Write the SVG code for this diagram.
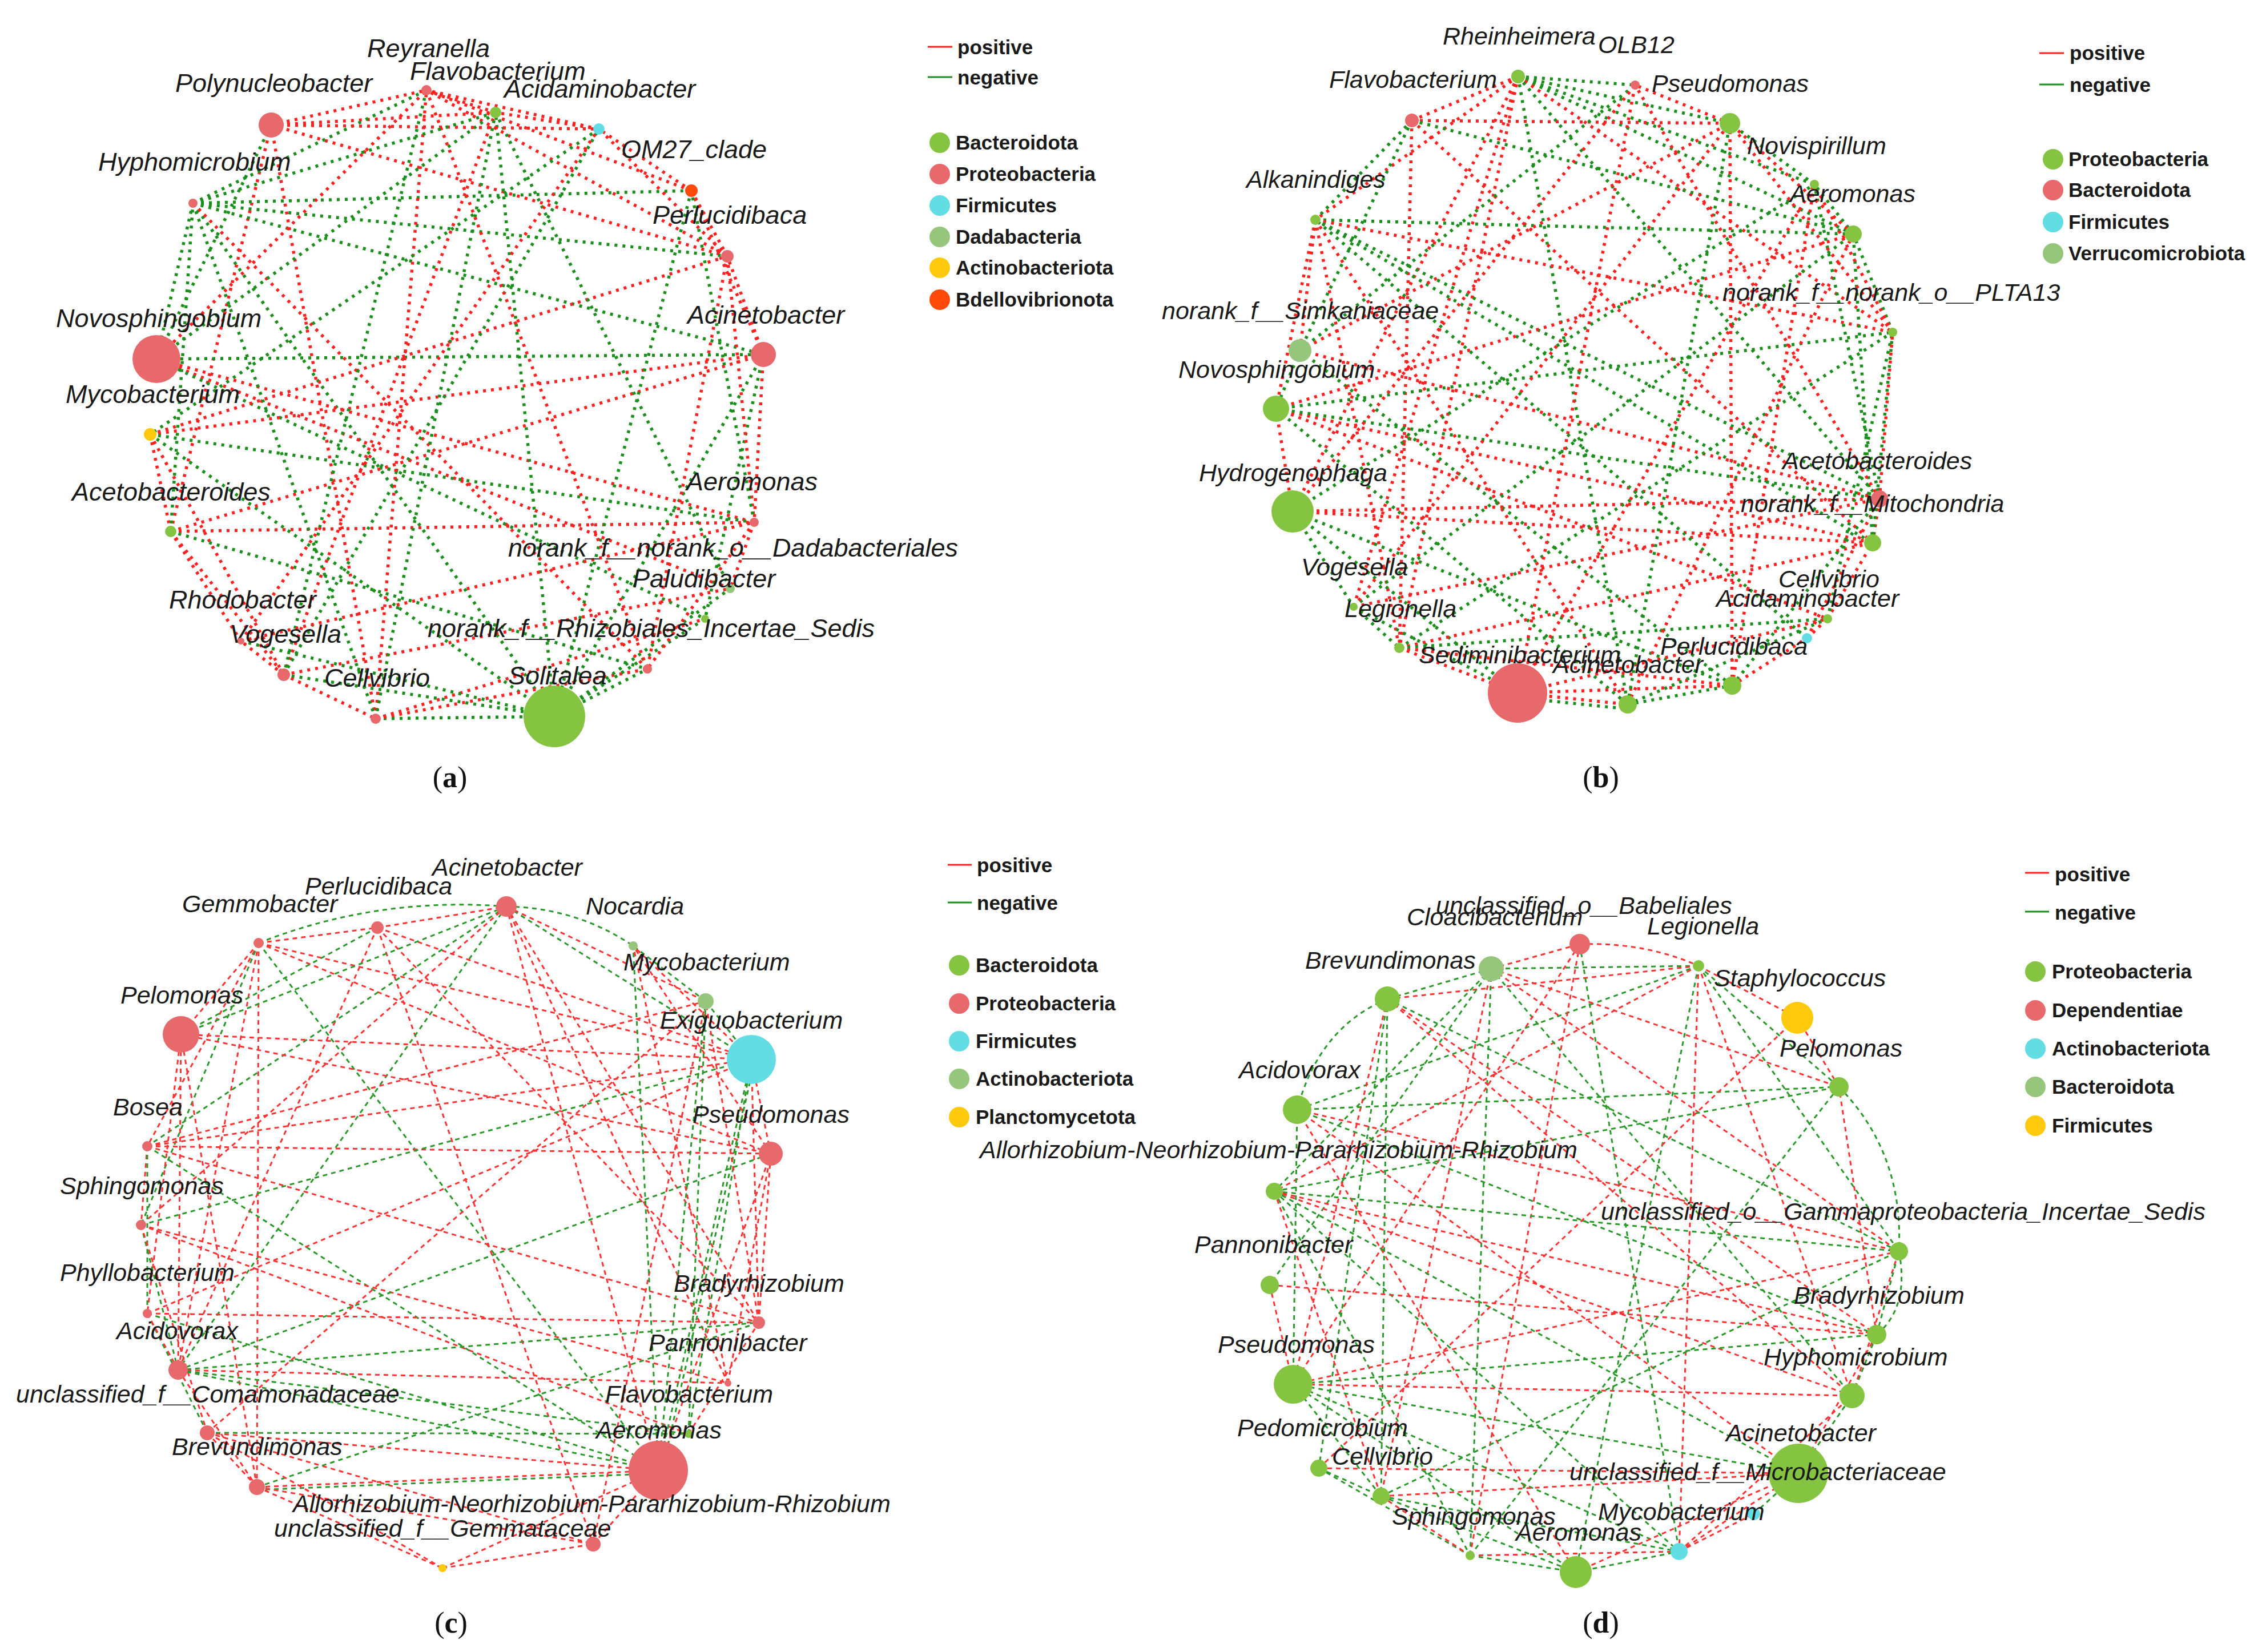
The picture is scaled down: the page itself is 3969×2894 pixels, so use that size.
<svg xmlns="http://www.w3.org/2000/svg" width="3969" height="2894" viewBox="0 0 3969 2894">
<style>
.dp{stroke:#ff2020;stroke-width:5.5;stroke-dasharray:5 9;fill:none}
.dn{stroke:#1b8f1b;stroke-width:5.5;stroke-dasharray:5 9;fill:none}
.sp{stroke:#ff3333;stroke-width:3;stroke-dasharray:8 7;fill:none}
.sn{stroke:#2a992a;stroke-width:3;stroke-dasharray:8 7;fill:none}
.g{fill:#85c441}.r{fill:#e8696b}.c{fill:#62dde3}.l{fill:#96c67b}.y{fill:#ffc90e}.o{fill:#ff4a0a}
.lb{font-family:"Liberation Sans",Arial,sans-serif;font-style:italic;font-size:45px;fill:#1a1a1a}
.lb2{font-family:"Liberation Sans",Arial,sans-serif;font-style:italic;font-size:43px;fill:#1a1a1a}
.lg{font-family:"Liberation Sans",Arial,sans-serif;font-weight:bold;font-size:35px;fill:#1a1a1a}
.cap{font-family:"Liberation Serif","Times New Roman",serif;font-size:52px;fill:#111}
.lp{stroke:#ff2020;stroke-width:3}.ln{stroke:#1b8f1b;stroke-width:3}
</style>
<rect width="3969" height="2894" fill="#ffffff"/>

<!-- ================= PANEL A ================= -->
<g id="panel-a">
<g id="a-connectors">
<line class="dp" x1="475" y1="219" x2="868" y2="197"/>
<line class="dp" x1="475" y1="219" x2="1274" y2="449"/>
<line class="dp" x1="475" y1="219" x2="299" y2="931"/>
<line class="dp" x1="475" y1="219" x2="658" y2="1259"/>
<line class="dn" x1="475" y1="219" x2="274" y2="629"/>
<line class="dp" x1="475" y1="219" x2="747" y2="158"/>
<line class="dn" x1="338" y1="356" x2="747" y2="158"/>
<line class="dn" x1="338" y1="356" x2="1211" y2="334"/>
<line class="dn" x1="338" y1="356" x2="274" y2="629"/>
<line class="dn" x1="338" y1="356" x2="1274" y2="449"/>
<line class="dn" x1="338" y1="356" x2="1337" y2="621"/>
<line class="dn" x1="338" y1="356" x2="971" y2="1255"/>
<line class="dp" x1="338" y1="356" x2="1134" y2="1172"/>
<line class="dn" x1="274" y1="629" x2="1337" y2="621"/>
<line class="dp" x1="274" y1="629" x2="747" y2="158"/>
<line class="dp" x1="274" y1="629" x2="1279" y2="1031"/>
<line class="dn" x1="274" y1="629" x2="1235" y2="1084"/>
<line class="dp" x1="274" y1="629" x2="1321" y2="915"/>
<line class="dp" x1="263" y1="761" x2="1337" y2="621"/>
<line class="dp" x1="263" y1="761" x2="1274" y2="449"/>
<line class="dn" x1="263" y1="761" x2="1321" y2="915"/>
<line class="dp" x1="263" y1="761" x2="299" y2="931"/>
<line class="dp" x1="263" y1="761" x2="497" y2="1182"/>
<line class="dn" x1="263" y1="761" x2="971" y2="1255"/>
<line class="dp" x1="299" y1="931" x2="1337" y2="621"/>
<line class="dp" x1="299" y1="931" x2="1321" y2="915"/>
<line class="dp" x1="299" y1="931" x2="497" y2="1182"/>
<line class="dp" x1="299" y1="931" x2="422" y2="1123"/>
<line class="dn" x1="299" y1="931" x2="338" y2="356"/>
<line class="dn" x1="299" y1="931" x2="1134" y2="1172"/>
<line class="dp" x1="497" y1="1182" x2="422" y2="1123"/>
<line class="dp" x1="497" y1="1182" x2="658" y2="1259"/>
<line class="dn" x1="497" y1="1182" x2="971" y2="1255"/>
<line class="dp" x1="497" y1="1182" x2="1279" y2="1031"/>
<line class="dp" x1="497" y1="1182" x2="868" y2="197"/>
<line class="dn" x1="497" y1="1182" x2="1049" y2="226"/>
<line class="dn" x1="658" y1="1259" x2="971" y2="1255"/>
<line class="dp" x1="658" y1="1259" x2="1134" y2="1172"/>
<line class="dp" x1="658" y1="1259" x2="747" y2="158"/>
<line class="dn" x1="658" y1="1259" x2="338" y2="356"/>
<line class="dp" x1="658" y1="1259" x2="1235" y2="1084"/>
<line class="dn" x1="971" y1="1255" x2="1134" y2="1172"/>
<line class="dn" x1="971" y1="1255" x2="1235" y2="1084"/>
<line class="dn" x1="971" y1="1255" x2="1279" y2="1031"/>
<line class="dn" x1="971" y1="1255" x2="1337" y2="621"/>
<line class="dn" x1="971" y1="1255" x2="868" y2="197"/>
<line class="dn" x1="971" y1="1255" x2="422" y2="1123"/>
<line class="dp" x1="1337" y1="621" x2="1274" y2="449"/>
<line class="dp" x1="1337" y1="621" x2="1321" y2="915"/>
<line class="dp" x1="1337" y1="621" x2="1211" y2="334"/>
<line class="dn" x1="1337" y1="621" x2="1235" y2="1084"/>
<line class="dp" x1="1321" y1="915" x2="1274" y2="449"/>
<line class="dn" x1="1321" y1="915" x2="1211" y2="334"/>
<line class="dp" x1="1321" y1="915" x2="1279" y2="1031"/>
<line class="dp" x1="1321" y1="915" x2="1134" y2="1172"/>
<line class="dp" x1="1274" y1="449" x2="1211" y2="334"/>
<line class="dp" x1="1274" y1="449" x2="747" y2="158"/>
<line class="dp" x1="1274" y1="449" x2="1049" y2="226"/>
<line class="dp" x1="1211" y1="334" x2="1049" y2="226"/>
<line class="dp" x1="1211" y1="334" x2="747" y2="158"/>
<line class="dp" x1="1049" y1="226" x2="868" y2="197"/>
<line class="dp" x1="1049" y1="226" x2="747" y2="158"/>
<line class="dp" x1="868" y1="197" x2="747" y2="158"/>
<line class="dn" x1="868" y1="197" x2="658" y2="1259"/>
<line class="dn" x1="868" y1="197" x2="1279" y2="1031"/>
<line class="dn" x1="1211" y1="334" x2="971" y2="1255"/>
<line class="dp" x1="1274" y1="449" x2="1134" y2="1172"/>
<line class="dp" x1="747" y1="158" x2="1134" y2="1172"/>
<line class="dn" x1="747" y1="158" x2="497" y2="1182"/>
<line class="dn" x1="1049" y1="226" x2="263" y2="761"/>
<line class="dn" x1="868" y1="197" x2="274" y2="629"/>
<line class="dp" x1="422" y1="1123" x2="1321" y2="915"/>
<line class="dp" x1="422" y1="1123" x2="1049" y2="226"/>
<line class="dp" x1="475" y1="219" x2="1049" y2="226"/>
<line class="dn" x1="338" y1="356" x2="868" y2="197"/>
</g>
<g id="a-Reyranella"><circle class="r" cx="747" cy="158" r="9"/><text class="lb" x="643" y="100">Reyranella</text></g>
<g id="a-Flavobacterium"><circle class="g" cx="868" cy="197" r="10"/><text class="lb" x="718" y="140">Flavobacterium</text></g>
<g id="a-Acidaminobacter"><circle class="c" cx="1049" cy="226" r="10"/><text class="lb" x="883" y="171">Acidaminobacter</text></g>
<g id="a-OM27_clade"><circle class="o" cx="1211" cy="334" r="11"/><text class="lb" x="1088" y="277">OM27_clade</text></g>
<g id="a-Perlucidibaca"><circle class="r" cx="1274" cy="449" r="11"/><text class="lb" x="1143" y="392">Perlucidibaca</text></g>
<g id="a-Acinetobacter"><circle class="r" cx="1337" cy="621" r="22"/><text class="lb" x="1204" y="567">Acinetobacter</text></g>
<g id="a-Aeromonas"><circle class="r" cx="1321" cy="915" r="8"/><text class="lb" x="1202" y="859">Aeromonas</text></g>
<g id="a-Dadabacteriales"><circle class="l" cx="1279" cy="1031" r="8"/><text class="lb" x="890" y="975">norank_f__norank_o__Dadabacteriales</text></g>
<g id="a-Paludibacter"><circle class="g" cx="1235" cy="1084" r="7"/><text class="lb" x="1108" y="1029">Paludibacter</text></g>
<g id="a-Rhizobiales"><circle class="r" cx="1134" cy="1172" r="8"/><text class="lb" x="749" y="1116">norank_f__Rhizobiales_Incertae_Sedis</text></g>
<g id="a-Solitalea"><circle class="g" cx="971" cy="1255" r="54"/><text class="lb" x="890" y="1199">Solitalea</text></g>
<g id="a-Cellvibrio"><circle class="r" cx="658" cy="1259" r="9"/><text class="lb" x="568" y="1203">Cellvibrio</text></g>
<g id="a-Vogesella"><circle class="r" cx="497" cy="1182" r="11"/><text class="lb" x="402" y="1126">Vogesella</text></g>
<g id="a-Rhodobacter"><circle class="r" cx="422" cy="1123" r="6"/><text class="lb" x="296" y="1066">Rhodobacter</text></g>
<g id="a-Acetobacteroides"><circle class="g" cx="299" cy="931" r="10"/><text class="lb" x="126" y="877">Acetobacteroides</text></g>
<g id="a-Mycobacterium"><circle class="y" cx="263" cy="761" r="11"/><text class="lb" x="115" y="706">Mycobacterium</text></g>
<g id="a-Novosphingobium"><circle class="r" cx="274" cy="629" r="42"/><text class="lb" x="98" y="573">Novosphingobium</text></g>
<g id="a-Hyphomicrobium"><circle class="r" cx="338" cy="356" r="8"/><text class="lb" x="172" y="299">Hyphomicrobium</text></g>
<g id="a-Polynucleobacter"><circle class="r" cx="475" cy="219" r="22"/><text class="lb" x="307" y="161">Polynucleobacter</text></g>
<g id="a-legend">
<line class="lp" x1="1625" y1="82" x2="1668" y2="82"/><text class="lg" x="1677" y="95">positive</text>
<line class="ln" x1="1625" y1="135" x2="1668" y2="135"/><text class="lg" x="1677" y="148">negative</text>
<circle class="g" cx="1646" cy="250" r="18"/><text class="lg" x="1674" y="262">Bacteroidota</text>
<circle class="r" cx="1646" cy="305" r="18"/><text class="lg" x="1674" y="317">Proteobacteria</text>
<circle class="c" cx="1646" cy="360" r="18"/><text class="lg" x="1674" y="372">Firmicutes</text>
<circle class="l" cx="1646" cy="415" r="18"/><text class="lg" x="1674" y="427">Dadabacteria</text>
<circle class="y" cx="1646" cy="469" r="18"/><text class="lg" x="1674" y="481">Actinobacteriota</text>
<circle class="o" cx="1646" cy="525" r="18"/><text class="lg" x="1674" y="537">Bdellovibrionota</text>
</g>
<text class="cap" x="788" y="1379" text-anchor="middle">(<tspan font-weight="bold">a</tspan>)</text>
</g>

<!-- ================= PANEL B ================= -->
<g id="panel-b">
<g id="b-connectors">
<line class="dp" x1="2659" y1="134" x2="2304" y2="385"/>
<line class="dp" x1="2659" y1="134" x2="2264" y2="896"/>
<line class="dn" x1="2659" y1="134" x2="2851" y2="1234"/>
<line class="dn" x1="2659" y1="134" x2="3030" y2="216"/>
<line class="dn" x1="2659" y1="134" x2="3178" y2="323"/>
<line class="dn" x1="2659" y1="134" x2="3246" y2="410"/>
<line class="dp" x1="2659" y1="134" x2="3315" y2="582"/>
<line class="dp" x1="2659" y1="134" x2="2371" y2="1063"/>
<line class="dp" x1="2659" y1="134" x2="2451" y2="1135"/>
<line class="dp" x1="2659" y1="134" x2="2473" y2="211"/>
<line class="dn" x1="2659" y1="134" x2="2864" y2="149"/>
<line class="dn" x1="2659" y1="134" x2="3292" y2="874"/>
<line class="dn" x1="2473" y1="211" x2="2304" y2="385"/>
<line class="dn" x1="2473" y1="211" x2="2277" y2="614"/>
<line class="dp" x1="2473" y1="211" x2="2451" y2="1135"/>
<line class="dp" x1="2473" y1="211" x2="3280" y2="951"/>
<line class="dp" x1="2473" y1="211" x2="3030" y2="216"/>
<line class="dn" x1="2473" y1="211" x2="3246" y2="410"/>
<line class="dp" x1="2304" y1="385" x2="2277" y2="614"/>
<line class="dp" x1="2304" y1="385" x2="2235" y2="716"/>
<line class="dn" x1="2304" y1="385" x2="3246" y2="410"/>
<line class="dp" x1="2304" y1="385" x2="3315" y2="582"/>
<line class="dn" x1="2304" y1="385" x2="3292" y2="874"/>
<line class="dp" x1="2304" y1="385" x2="2451" y2="1135"/>
<line class="dp" x1="2304" y1="385" x2="2851" y2="1234"/>
<line class="dn" x1="2304" y1="385" x2="3280" y2="951"/>
<line class="dp" x1="2277" y1="614" x2="3030" y2="216"/>
<line class="dn" x1="2277" y1="614" x2="2864" y2="149"/>
<line class="dn" x1="2277" y1="614" x2="3034" y2="1201"/>
<line class="dp" x1="2277" y1="614" x2="3292" y2="874"/>
<line class="dn" x1="2277" y1="614" x2="2235" y2="716"/>
<line class="dp" x1="2235" y1="716" x2="3246" y2="410"/>
<line class="dp" x1="2235" y1="716" x2="3280" y2="951"/>
<line class="dp" x1="2235" y1="716" x2="3201" y2="1084"/>
<line class="dn" x1="2235" y1="716" x2="2851" y2="1234"/>
<line class="dn" x1="2235" y1="716" x2="3292" y2="874"/>
<line class="dn" x1="2235" y1="716" x2="3315" y2="582"/>
<line class="dp" x1="2235" y1="716" x2="2264" y2="896"/>
<line class="dp" x1="2264" y1="896" x2="3280" y2="951"/>
<line class="dp" x1="2264" y1="896" x2="3292" y2="874"/>
<line class="dp" x1="2264" y1="896" x2="2864" y2="149"/>
<line class="dn" x1="2264" y1="896" x2="3178" y2="323"/>
<line class="dn" x1="2264" y1="896" x2="2371" y2="1063"/>
<line class="dn" x1="2264" y1="896" x2="2658" y2="1214"/>
<line class="dn" x1="2264" y1="896" x2="3034" y2="1201"/>
<line class="dn" x1="2371" y1="1063" x2="2451" y2="1135"/>
<line class="dn" x1="2371" y1="1063" x2="2658" y2="1214"/>
<line class="dn" x1="2371" y1="1063" x2="3246" y2="410"/>
<line class="dp" x1="2371" y1="1063" x2="3030" y2="216"/>
<line class="dp" x1="2371" y1="1063" x2="3292" y2="874"/>
<line class="dp" x1="2451" y1="1135" x2="2658" y2="1214"/>
<line class="dp" x1="2451" y1="1135" x2="3034" y2="1201"/>
<line class="dp" x1="2451" y1="1135" x2="3280" y2="951"/>
<line class="dn" x1="2451" y1="1135" x2="3315" y2="582"/>
<line class="dn" x1="2451" y1="1135" x2="3201" y2="1084"/>
<line class="dp" x1="2658" y1="1214" x2="2851" y2="1234"/>
<line class="dn" x1="2658" y1="1222" x2="2851" y2="1242"/>
<line class="dp" x1="2658" y1="1214" x2="3034" y2="1201"/>
<line class="dp" x1="2658" y1="1214" x2="3201" y2="1084"/>
<line class="dp" x1="2658" y1="1214" x2="2864" y2="149"/>
<line class="dp" x1="2658" y1="1214" x2="3178" y2="323"/>
<line class="dn" x1="2851" y1="1234" x2="3034" y2="1201"/>
<line class="dn" x1="2851" y1="1234" x2="3201" y2="1084"/>
<line class="dn" x1="2851" y1="1234" x2="3030" y2="216"/>
<line class="dp" x1="2851" y1="1234" x2="3246" y2="410"/>
<line class="dp" x1="3034" y1="1201" x2="3165" y2="1118"/>
<line class="dn" x1="3034" y1="1201" x2="3292" y2="874"/>
<line class="dp" x1="3034" y1="1201" x2="3030" y2="216"/>
<line class="dp" x1="3034" y1="1201" x2="3178" y2="323"/>
<line class="dp" x1="3165" y1="1118" x2="3201" y2="1084"/>
<line class="dp" x1="3165" y1="1118" x2="3292" y2="874"/>
<line class="dn" x1="3165" y1="1118" x2="2304" y2="385"/>
<line class="dp" x1="3201" y1="1084" x2="3280" y2="951"/>
<line class="dn" x1="3201" y1="1084" x2="3315" y2="582"/>
<line class="dp" x1="3280" y1="951" x2="3292" y2="874"/>
<line class="dn" x1="3280" y1="951" x2="3315" y2="582"/>
<line class="dn" x1="3280" y1="951" x2="3246" y2="410"/>
<line class="dp" x1="3292" y1="874" x2="3315" y2="582"/>
<line class="dn" x1="3292" y1="874" x2="3178" y2="323"/>
<line class="dp" x1="3292" y1="874" x2="2864" y2="149"/>
<line class="dn" x1="3315" y1="582" x2="3246" y2="410"/>
<line class="dp" x1="3315" y1="582" x2="3178" y2="323"/>
<line class="dp" x1="3315" y1="582" x2="3030" y2="216"/>
<line class="dn" x1="3246" y1="410" x2="3178" y2="323"/>
<line class="dp" x1="3246" y1="410" x2="3030" y2="216"/>
<line class="dn" x1="3178" y1="323" x2="3030" y2="216"/>
<line class="dp" x1="3030" y1="216" x2="2864" y2="149"/>
</g>
<g id="b-Rheinheimera"><circle class="g" cx="2659" cy="134" r="12"/><text class="lb2" x="2527" y="78">Rheinheimera</text></g>
<g id="b-OLB12"><circle class="r" cx="2864" cy="149" r="8"/><text class="lb2" x="2799" y="93">OLB12</text></g>
<g id="b-Flavobacterium"><circle class="r" cx="2473" cy="211" r="12"/><text class="lb2" x="2328" y="154">Flavobacterium</text></g>
<g id="b-Pseudomonas"><circle class="g" cx="3030" cy="216" r="18"/><text class="lb2" x="2893" y="161">Pseudomonas</text></g>
<g id="b-Novispirillum"><circle class="g" cx="3178" cy="323" r="8"/><text class="lb2" x="3060" y="270">Novispirillum</text></g>
<g id="b-Aeromonas"><circle class="g" cx="3246" cy="410" r="15"/><text class="lb2" x="3135" y="354">Aeromonas</text></g>
<g id="b-Alkanindiges"><circle class="g" cx="2304" cy="385" r="9"/><text class="lb2" x="2183" y="329">Alkanindiges</text></g>
<g id="b-PLTA13"><circle class="g" cx="3315" cy="582" r="8"/><text class="lb2" x="3017" y="527">norank_f__norank_o__PLTA13</text></g>
<g id="b-Simkaniaceae"><circle class="l" cx="2277" cy="614" r="20"/><text class="lb2" x="2035" y="559">norank_f__Simkaniaceae</text></g>
<g id="b-Novosphingobium"><circle class="g" cx="2235" cy="716" r="23"/><text class="lb2" x="2064" y="662">Novosphingobium</text></g>
<g id="b-Hydrogenophaga"><circle class="g" cx="2264" cy="896" r="37"/><text class="lb2" x="2100" y="843">Hydrogenophaga</text></g>
<g id="b-Acetobacteroides"><circle class="r" cx="3292" cy="874" r="15"/><text class="lb2" x="3122" y="822">Acetobacteroides</text></g>
<g id="b-Mitochondria"><circle class="g" cx="3280" cy="951" r="15"/><text class="lb2" x="3049" y="897">norank_f__Mitochondria</text></g>
<g id="b-Vogesella"><circle class="g" cx="2371" cy="1063" r="7"/><text class="lb2" x="2279" y="1008">Vogesella</text></g>
<g id="b-Cellvibrio"><circle class="g" cx="3201" cy="1084" r="8"/><text class="lb2" x="3115" y="1029">Cellvibrio</text></g>
<g id="b-Acidaminobacter"><circle class="c" cx="3165" cy="1118" r="9"/><text class="lb2" x="3006" y="1063">Acidaminobacter</text></g>
<g id="b-Legionella"><circle class="g" cx="2451" cy="1135" r="9"/><text class="lb2" x="2355" y="1081">Legionella</text></g>
<g id="b-Perlucidibaca"><circle class="g" cx="3034" cy="1201" r="16"/><text class="lb2" x="2908" y="1147">Perlucidibaca</text></g>
<g id="b-Sediminibacterium"><circle class="r" cx="2658" cy="1214" r="52"/><text class="lb2" x="2485" y="1162">Sediminibacterium</text></g>
<g id="b-Acinetobacter"><circle class="g" cx="2851" cy="1234" r="16"/><text class="lb2" x="2720" y="1179">Acinetobacter</text></g>
<g id="b-legend">
<line class="lp" x1="3572" y1="93" x2="3615" y2="93"/><text class="lg" x="3625" y="105">positive</text>
<line class="ln" x1="3572" y1="148" x2="3615" y2="148"/><text class="lg" x="3625" y="161">negative</text>
<circle class="g" cx="3596" cy="279" r="18"/><text class="lg" x="3623" y="291">Proteobacteria</text>
<circle class="r" cx="3596" cy="333" r="18"/><text class="lg" x="3623" y="345">Bacteroidota</text>
<circle class="c" cx="3596" cy="389" r="18"/><text class="lg" x="3623" y="401">Firmicutes</text>
<circle class="l" cx="3596" cy="444" r="18"/><text class="lg" x="3623" y="456">Verrucomicrobiota</text>
</g>
<text class="cap" x="2804" y="1379" text-anchor="middle">(<tspan font-weight="bold">b</tspan>)</text>
</g>

<!-- ================= PANEL C ================= -->
<g id="panel-c">
<g id="c-connectors">
<path class="sn" d="M453 1652 Q660 1570 887 1588"/>
<line class="sp" x1="453" y1="1652" x2="661" y2="1625"/>
<line class="sp" x1="453" y1="1652" x2="317" y2="1812"/>
<line class="sp" x1="453" y1="1652" x2="258" y2="2008"/>
<line class="sn" x1="453" y1="1652" x2="247" y2="2146"/>
<line class="sp" x1="453" y1="1652" x2="450" y2="2605"/>
<line class="sn" x1="453" y1="1652" x2="1153" y2="2576"/>
<line class="sp" x1="453" y1="1652" x2="1316" y2="1856"/>
<line class="sp" x1="453" y1="1652" x2="1350" y2="2021"/>
<line class="sp" x1="453" y1="1652" x2="312" y2="2400"/>
<line class="sp" x1="661" y1="1625" x2="887" y2="1588"/>
<line class="sp" x1="661" y1="1625" x2="1316" y2="1856"/>
<line class="sp" x1="661" y1="1625" x2="1329" y2="2317"/>
<line class="sp" x1="661" y1="1625" x2="312" y2="2400"/>
<line class="sp" x1="661" y1="1625" x2="1039" y2="2705"/>
<line class="sn" x1="661" y1="1625" x2="317" y2="1812"/>
<path class="sn" d="M887 1588 Q1010 1590 1109 1657"/>
<line class="sp" x1="887" y1="1588" x2="1236" y2="1754"/>
<line class="sn" x1="887" y1="1588" x2="317" y2="1812"/>
<line class="sn" x1="887" y1="1588" x2="258" y2="2008"/>
<line class="sp" x1="887" y1="1588" x2="247" y2="2146"/>
<line class="sp" x1="887" y1="1588" x2="1153" y2="2576"/>
<line class="sp" x1="887" y1="1588" x2="1329" y2="2317"/>
<line class="sn" x1="887" y1="1588" x2="312" y2="2400"/>
<line class="sp" x1="887" y1="1588" x2="1275" y2="2423"/>
<line class="sn" x1="887" y1="1588" x2="1316" y2="1856"/>
<line class="sp" x1="317" y1="1812" x2="1316" y2="1856"/>
<line class="sp" x1="317" y1="1812" x2="1350" y2="2021"/>
<line class="sp" x1="317" y1="1812" x2="312" y2="2400"/>
<line class="sp" x1="317" y1="1812" x2="258" y2="2301"/>
<line class="sp" x1="317" y1="1812" x2="450" y2="2605"/>
<line class="sp" x1="258" y1="2008" x2="1316" y2="1856"/>
<line class="sp" x1="258" y1="2008" x2="1350" y2="2021"/>
<line class="sn" x1="258" y1="2008" x2="1153" y2="2576"/>
<line class="sp" x1="258" y1="2008" x2="247" y2="2146"/>
<line class="sn" x1="258" y1="2008" x2="258" y2="2301"/>
<line class="sp" x1="258" y1="2008" x2="1236" y2="1754"/>
<line class="sp" x1="258" y1="2008" x2="1329" y2="2317"/>
<line class="sn" x1="247" y1="2146" x2="1316" y2="1856"/>
<line class="sp" x1="247" y1="2146" x2="1206" y2="2512"/>
<line class="sn" x1="247" y1="2146" x2="312" y2="2400"/>
<line class="sp" x1="247" y1="2146" x2="1275" y2="2423"/>
<line class="sp" x1="247" y1="2146" x2="363" y2="2510"/>
<line class="sp" x1="258" y1="2301" x2="1316" y2="1856"/>
<line class="sn" x1="258" y1="2301" x2="1153" y2="2576"/>
<line class="sn" x1="258" y1="2301" x2="363" y2="2510"/>
<line class="sp" x1="258" y1="2301" x2="1329" y2="2317"/>
<line class="sp" x1="258" y1="2301" x2="312" y2="2400"/>
<line class="sn" x1="312" y1="2400" x2="1350" y2="2021"/>
<line class="sn" x1="312" y1="2400" x2="1153" y2="2576"/>
<line class="sp" x1="312" y1="2400" x2="1275" y2="2423"/>
<line class="sn" x1="312" y1="2400" x2="1206" y2="2512"/>
<line class="sn" x1="312" y1="2400" x2="1329" y2="2317"/>
<line class="sp" x1="312" y1="2400" x2="450" y2="2605"/>
<line class="sp" x1="363" y1="2510" x2="1153" y2="2576"/>
<line class="sn" x1="363" y1="2510" x2="1206" y2="2512"/>
<line class="sp" x1="363" y1="2510" x2="1236" y2="1754"/>
<line class="sp" x1="363" y1="2510" x2="1039" y2="2705"/>
<line class="sp" x1="363" y1="2510" x2="450" y2="2605"/>
<line class="sp" x1="450" y1="2605" x2="1153" y2="2576"/>
<line class="sn" x1="450" y1="2610" x2="1153" y2="2581"/>
<line class="sp" x1="450" y1="2605" x2="1039" y2="2705"/>
<line class="sp" x1="450" y1="2605" x2="775" y2="2747"/>
<line class="sn" x1="450" y1="2605" x2="1329" y2="2317"/>
<line class="sp" x1="775" y1="2747" x2="1039" y2="2705"/>
<line class="sp" x1="775" y1="2747" x2="1153" y2="2576"/>
<line class="sp" x1="775" y1="2747" x2="363" y2="2510"/>
<line class="sp" x1="1039" y1="2705" x2="1153" y2="2576"/>
<line class="sp" x1="1039" y1="2705" x2="1236" y2="1754"/>
<line class="sn" x1="1153" y1="2576" x2="1316" y2="1856"/>
<line class="sn" x1="1160" y1="2576" x2="1322" y2="1858"/>
<line class="sn" x1="1153" y1="2576" x2="1236" y2="1754"/>
<line class="sn" x1="1153" y1="2576" x2="1109" y2="1657"/>
<line class="sp" x1="1153" y1="2576" x2="1350" y2="2021"/>
<line class="sn" x1="1206" y1="2512" x2="1316" y2="1856"/>
<line class="sn" x1="1206" y1="2512" x2="1236" y2="1754"/>
<line class="sp" x1="1206" y1="2512" x2="1329" y2="2317"/>
<line class="sp" x1="1275" y1="2423" x2="1350" y2="2021"/>
<line class="sp" x1="1275" y1="2423" x2="1109" y2="1657"/>
<line class="sp" x1="1329" y1="2317" x2="1350" y2="2021"/>
<line class="sp" x1="1329" y1="2317" x2="1316" y2="1856"/>
<line class="sp" x1="1329" y1="2317" x2="1236" y2="1754"/>
<line class="sp" x1="1350" y1="2021" x2="1316" y2="1856"/>
<line class="sp" x1="1350" y1="2021" x2="1109" y2="1657"/>
<line class="sn" x1="1316" y1="1856" x2="1236" y2="1754"/>
<line class="sp" x1="1316" y1="1856" x2="1109" y2="1657"/>
<line class="sn" x1="1236" y1="1754" x2="1109" y2="1657"/>
</g>
<g id="c-Acinetobacter"><circle class="r" cx="887" cy="1588" r="18"/><text class="lb2" x="757" y="1534">Acinetobacter</text></g>
<g id="c-Perlucidibaca"><circle class="r" cx="661" cy="1625" r="11"/><text class="lb2" x="534" y="1567">Perlucidibaca</text></g>
<g id="c-Gemmobacter"><circle class="r" cx="453" cy="1652" r="9"/><text class="lb2" x="319" y="1598">Gemmobacter</text></g>
<g id="c-Nocardia"><circle class="l" cx="1109" cy="1657" r="8"/><text class="lb2" x="1026" y="1602">Nocardia</text></g>
<g id="c-Mycobacterium"><circle class="l" cx="1236" cy="1754" r="14"/><text class="lb2" x="1092" y="1700">Mycobacterium</text></g>
<g id="c-Pelomonas"><circle class="r" cx="317" cy="1812" r="32"/><text class="lb2" x="211" y="1758">Pelomonas</text></g>
<g id="c-Exiguobacterium"><circle class="c" cx="1316" cy="1856" r="43"/><text class="lb2" x="1156" y="1802">Exiguobacterium</text></g>
<g id="c-Bosea"><circle class="r" cx="258" cy="2008" r="9"/><text class="lb2" x="198" y="1954">Bosea</text></g>
<g id="c-Pseudomonas"><circle class="r" cx="1350" cy="2021" r="21"/><text class="lb2" x="1213" y="1967">Pseudomonas</text></g>
<g id="c-Sphingomonas"><circle class="r" cx="247" cy="2146" r="9"/><text class="lb2" x="105" y="2092">Sphingomonas</text></g>
<g id="c-Phyllobacterium"><circle class="r" cx="258" cy="2301" r="8"/><text class="lb2" x="105" y="2244">Phyllobacterium</text></g>
<g id="c-Bradyrhizobium"><circle class="r" cx="1329" cy="2317" r="11"/><text class="lb2" x="1180" y="2263">Bradyrhizobium</text></g>
<g id="c-Acidovorax"><circle class="r" cx="312" cy="2400" r="17"/><text class="lb2" x="204" y="2346">Acidovorax</text></g>
<g id="c-Pannonibacter"><circle class="r" cx="1275" cy="2423" r="6"/><text class="lb2" x="1136" y="2367">Pannonibacter</text></g>
<g id="c-Comamonadaceae"><circle class="r" cx="363" cy="2510" r="13"/><text class="lb2" x="28" y="2457">unclassified_f__Comamonadaceae</text></g>
<g id="c-Flavobacterium"><circle class="g" cx="1206" cy="2512" r="7"/><text class="lb2" x="1060" y="2457">Flavobacterium</text></g>
<g id="c-Aeromonas"><circle class="r" cx="1153" cy="2576" r="52"/><text class="lb2" x="1044" y="2520">Aeromonas</text></g>
<g id="c-Brevundimonas"><circle class="r" cx="450" cy="2605" r="14"/><text class="lb2" x="301" y="2549">Brevundimonas</text></g>
<g id="c-Allorhizobium"><circle class="r" cx="1039" cy="2705" r="13"/><text class="lb2" x="513" y="2649">Allorhizobium-Neorhizobium-Pararhizobium-Rhizobium</text></g>
<g id="c-Gemmataceae"><circle class="y" cx="775" cy="2747" r="7"/><text class="lb2" x="480" y="2692">unclassified_f__Gemmataceae</text></g>
<g id="c-legend">
<line class="lp" x1="1660" y1="1515" x2="1702" y2="1515"/><text class="lg" x="1711" y="1528">positive</text>
<line class="ln" x1="1660" y1="1581" x2="1702" y2="1581"/><text class="lg" x="1711" y="1594">negative</text>
<circle class="g" cx="1680" cy="1691" r="18"/><text class="lg" x="1709" y="1703">Bacteroidota</text>
<circle class="r" cx="1680" cy="1758" r="18"/><text class="lg" x="1709" y="1770">Proteobacteria</text>
<circle class="c" cx="1680" cy="1824" r="18"/><text class="lg" x="1709" y="1836">Firmicutes</text>
<circle class="l" cx="1680" cy="1890" r="18"/><text class="lg" x="1709" y="1902">Actinobacteriota</text>
<circle class="y" cx="1680" cy="1957" r="18"/><text class="lg" x="1709" y="1969">Planctomycetota</text>
</g>
<text class="cap" x="790" y="2860" text-anchor="middle">(<tspan font-weight="bold">c</tspan>)</text>
</g>

<!-- ================= PANEL D ================= -->
<g id="panel-d">
<g id="d-connectors">
<line class="sn" x1="2975" y1="1692" x2="2612" y2="1697"/>
<line class="sp" x1="2975" y1="1692" x2="2430" y2="1750"/>
<line class="sn" x1="2975" y1="1692" x2="2272" y2="1944"/>
<line class="sp" x1="2975" y1="1692" x2="2232" y2="2087"/>
<line class="sn" x1="2975" y1="1692" x2="3221" y2="1904"/>
<line class="sn" x1="2975" y1="1692" x2="3326" y2="2192"/>
<line class="sp" x1="2975" y1="1692" x2="3244" y2="2445"/>
<line class="sn" x1="2975" y1="1692" x2="2760" y2="2754"/>
<line class="sp" x1="2975" y1="1692" x2="2941" y2="2718"/>
<line class="sp" x1="2975" y1="1692" x2="3148" y2="1783"/>
<line class="sp" x1="2612" y1="1697" x2="2767" y2="1654"/>
<line class="sn" x1="2612" y1="1697" x2="2430" y2="1750"/>
<line class="sn" x1="2612" y1="1697" x2="2232" y2="2087"/>
<line class="sn" x1="2612" y1="1697" x2="2224" y2="2251"/>
<line class="sn" x1="2612" y1="1697" x2="2575" y2="2725"/>
<line class="sp" x1="2612" y1="1697" x2="2419" y2="2621"/>
<line class="sn" x1="2612" y1="1697" x2="3244" y2="2445"/>
<line class="sp" x1="2612" y1="1697" x2="3221" y2="1904"/>
<line class="sp" x1="2612" y1="1697" x2="3326" y2="2192"/>
<path class="sp" d="M2767 1654 Q2880 1650 2975 1692"/>
<line class="sp" x1="2767" y1="1654" x2="2575" y2="2725"/>
<line class="sn" x1="2767" y1="1654" x2="2941" y2="2718"/>
<line class="sp" x1="2767" y1="1654" x2="2265" y2="2425"/>
<path class="sn" d="M2430 1750 Q2310 1800 2272 1944"/>
<line class="sn" x1="2430" y1="1750" x2="2310" y2="2572"/>
<line class="sn" x1="2430" y1="1750" x2="2419" y2="2621"/>
<line class="sp" x1="2430" y1="1750" x2="2265" y2="2425"/>
<line class="sp" x1="2430" y1="1750" x2="3287" y2="2338"/>
<line class="sp" x1="2430" y1="1750" x2="3244" y2="2445"/>
<line class="sn" x1="2430" y1="1750" x2="3326" y2="2192"/>
<line class="sn" x1="2272" y1="1944" x2="2265" y2="2425"/>
<line class="sn" x1="2272" y1="1944" x2="3221" y2="1904"/>
<line class="sp" x1="2272" y1="1944" x2="3150" y2="2581"/>
<line class="sp" x1="2272" y1="1944" x2="3326" y2="2192"/>
<line class="sp" x1="2272" y1="1944" x2="2760" y2="2754"/>
<line class="sn" x1="2272" y1="1944" x2="3287" y2="2338"/>
<line class="sn" x1="2232" y1="2087" x2="3221" y2="1904"/>
<line class="sn" x1="2232" y1="2087" x2="3326" y2="2192"/>
<line class="sp" x1="2232" y1="2087" x2="3244" y2="2445"/>
<line class="sp" x1="2232" y1="2087" x2="3287" y2="2338"/>
<line class="sn" x1="2232" y1="2087" x2="2575" y2="2725"/>
<line class="sn" x1="2232" y1="2087" x2="2941" y2="2718"/>
<line class="sp" x1="2232" y1="2087" x2="2419" y2="2621"/>
<line class="sn" x1="2232" y1="2087" x2="3150" y2="2581"/>
<line class="sp" x1="2224" y1="2251" x2="3287" y2="2338"/>
<line class="sp" x1="2224" y1="2251" x2="2265" y2="2425"/>
<line class="sp" x1="2265" y1="2425" x2="3244" y2="2445"/>
<line class="sn" x1="2265" y1="2425" x2="3150" y2="2581"/>
<line class="sn" x1="2265" y1="2425" x2="3287" y2="2338"/>
<line class="sp" x1="2265" y1="2425" x2="3326" y2="2192"/>
<line class="sn" x1="2265" y1="2425" x2="2941" y2="2718"/>
<line class="sn" x1="2265" y1="2425" x2="2760" y2="2754"/>
<line class="sn" x1="2265" y1="2425" x2="2419" y2="2621"/>
<line class="sn" x1="2310" y1="2572" x2="2419" y2="2621"/>
<line class="sn" x1="2310" y1="2572" x2="2575" y2="2725"/>
<line class="sp" x1="2310" y1="2572" x2="3150" y2="2581"/>
<line class="sp" x1="2310" y1="2572" x2="3148" y2="1783"/>
<line class="sp" x1="2419" y1="2621" x2="2575" y2="2725"/>
<line class="sn" x1="2419" y1="2621" x2="2760" y2="2754"/>
<line class="sn" x1="2419" y1="2621" x2="2941" y2="2718"/>
<line class="sp" x1="2419" y1="2621" x2="3150" y2="2581"/>
<line class="sn" x1="2419" y1="2621" x2="3326" y2="2192"/>
<line class="sn" x1="2575" y1="2725" x2="2760" y2="2754"/>
<line class="sp" x1="2575" y1="2725" x2="2941" y2="2718"/>
<line class="sn" x1="2575" y1="2725" x2="3221" y2="1904"/>
<line class="sn" x1="2760" y1="2754" x2="2941" y2="2718"/>
<line class="sp" x1="2760" y1="2754" x2="3150" y2="2581"/>
<line class="sp" x1="2941" y1="2718" x2="3150" y2="2581"/>
<line class="sp" x1="2941" y1="2718" x2="3244" y2="2445"/>
<line class="sp" x1="2941" y1="2718" x2="3072" y2="2652"/>
<line class="sn" x1="3072" y1="2652" x2="3150" y2="2581"/>
<line class="sn" x1="3150" y1="2581" x2="3244" y2="2445"/>
<line class="sp" x1="3150" y1="2581" x2="3287" y2="2338"/>
<line class="sn" x1="3244" y1="2445" x2="3287" y2="2338"/>
<line class="sp" x1="3244" y1="2445" x2="3326" y2="2192"/>
<line class="sn" x1="3287" y1="2338" x2="3326" y2="2192"/>
<line class="sp" x1="3287" y1="2338" x2="3221" y2="1904"/>
<path class="sn" d="M3221 1904 Q3335 2020 3326 2192"/>
<path class="sn" d="M3326 2192 Q3345 2290 3287 2338"/>
<line class="sp" x1="3221" y1="1904" x2="3148" y2="1783"/>
</g>
<g id="d-Babeliales"><circle class="r" cx="2767" cy="1654" r="18"/><text class="lb2" x="2515" y="1601">unclassified_o__Babeliales</text></g>
<g id="d-Cloacibacterium"><circle class="l" cx="2612" cy="1697" r="22"/><text class="lb2" x="2464" y="1621">Cloacibacterium</text></g>
<g id="d-Legionella"><text class="lb2" x="2885" y="1637">Legionella</text></g>
<g id="d-Staphylococcus"><circle class="g" cx="2975" cy="1692" r="10"/><text class="lb2" x="3002" y="1728">Staphylococcus</text></g>
<g id="d-Brevundimonas"><circle class="g" cx="2430" cy="1750" r="22"/><text class="lb2" x="2286" y="1697">Brevundimonas</text></g>
<g id="d-Firmicutes"><circle class="y" cx="3148" cy="1783" r="28"/></g>
<g id="d-Pelomonas"><circle class="g" cx="3221" cy="1904" r="17"/><text class="lb2" x="3117" y="1851">Pelomonas</text></g>
<g id="d-Acidovorax"><circle class="g" cx="2272" cy="1944" r="25"/><text class="lb2" x="2170" y="1889">Acidovorax</text></g>
<g id="d-Allorhizobium"><circle class="g" cx="2232" cy="2087" r="15"/><text class="lb2" x="1716" y="2029">Allorhizobium-Neorhizobium-Pararhizobium-Rhizobium</text></g>
<g id="d-Gammaproteobacteria"><circle class="g" cx="3326" cy="2192" r="16"/><text class="lb2" x="2804" y="2137">unclassified_o__Gammaproteobacteria_Incertae_Sedis</text></g>
<g id="d-Pannonibacter"><circle class="g" cx="2224" cy="2251" r="16"/><text class="lb2" x="2092" y="2195">Pannonibacter</text></g>
<g id="d-Bradyrhizobium"><circle class="g" cx="3287" cy="2338" r="17"/><text class="lb2" x="3142" y="2284">Bradyrhizobium</text></g>
<g id="d-Pseudomonas"><circle class="g" cx="2265" cy="2425" r="34"/><text class="lb2" x="2133" y="2370">Pseudomonas</text></g>
<g id="d-Hyphomicrobium"><circle class="g" cx="3244" cy="2445" r="22"/><text class="lb2" x="3089" y="2392">Hyphomicrobium</text></g>
<g id="d-Pedomicrobium"><circle class="g" cx="2310" cy="2572" r="15"/><text class="lb2" x="2167" y="2516">Pedomicrobium</text></g>
<g id="d-Acinetobacter"><circle class="g" cx="3150" cy="2581" r="52"/><text class="lb2" x="3023" y="2525">Acinetobacter</text></g>
<g id="d-Cellvibrio"><circle class="g" cx="2419" cy="2621" r="15"/><text class="lb2" x="2333" y="2566">Cellvibrio</text></g>
<g id="d-Microbacteriaceae"><circle class="c" cx="3072" cy="2652" r="11"/><text class="lb2" x="2749" y="2593">unclassified_f__Microbacteriaceae</text></g>
<g id="d-Mycobacterium"><circle class="c" cx="2941" cy="2718" r="15"/><text class="lb2" x="2799" y="2663">Mycobacterium</text></g>
<g id="d-Sphingomonas"><circle class="g" cx="2575" cy="2725" r="8"/><text class="lb2" x="2438" y="2671">Sphingomonas</text></g>
<g id="d-Aeromonas"><circle class="g" cx="2760" cy="2754" r="28"/><text class="lb2" x="2655" y="2699">Aeromonas</text></g>
<g id="d-legend">
<line class="lp" x1="3547" y1="1529" x2="3589" y2="1529"/><text class="lg" x="3599" y="1544">positive</text>
<line class="ln" x1="3547" y1="1597" x2="3589" y2="1597"/><text class="lg" x="3599" y="1611">negative</text>
<circle class="g" cx="3565" cy="1702" r="18"/><text class="lg" x="3594" y="1714">Proteobacteria</text>
<circle class="r" cx="3565" cy="1770" r="18"/><text class="lg" x="3594" y="1782">Dependentiae</text>
<circle class="c" cx="3565" cy="1837" r="18"/><text class="lg" x="3594" y="1849">Actinobacteriota</text>
<circle class="l" cx="3565" cy="1904" r="18"/><text class="lg" x="3594" y="1916">Bacteroidota</text>
<circle class="y" cx="3565" cy="1972" r="18"/><text class="lg" x="3594" y="1984">Firmicutes</text>
</g>
<text class="cap" x="2804" y="2860" text-anchor="middle">(<tspan font-weight="bold">d</tspan>)</text>
</g>
</svg>
